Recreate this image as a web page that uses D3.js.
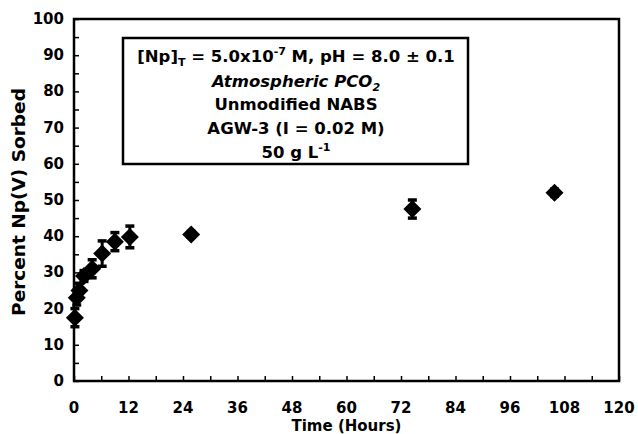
<!DOCTYPE html>
<html>
<head>
<meta charset="utf-8">
<script src="https://d3js.org/d3.v7.min.js"></script>
<style>
  body { margin: 0; background: white; }
  text { font-family: "DejaVu Sans", Verdana, sans-serif; font-weight: bold; }
</style>
</head>
<body>
<div id="chart"></div>
<script>
// data
var hours   = [0.2, 0.6, 1.2, 2.2, 4, 6.2, 9, 12.3, 25.8, 74.5, 105.8];
var percent = [17.5, 23, 25, 29, 31, 35.2, 38.5, 39.8, 40.5, 47.5, 52];
var errs    = [2.5, 2, 2, 1.5, 2.5, 3.5, 2.5, 3, 0.8, 2.5, 1];
var xTicks  = [0, 12, 24, 36, 48, 60, 72, 84, 96, 108, 120];
var yTicks  = [0, 10, 20, 30, 40, 50, 60, 70, 80, 90, 100];
var noteLines = ["Atmospheric PCO2", "Unmodified NABS", "AGW-3 (I = 0.02 M)", "50 g L-1"];

var width = 638, height = 434;
var margin = {left: 74, right: 19, top: 19, bottom: 53};

var svg = d3.select("#chart").append("svg")
  .attr("width", width).attr("height", height);

var x = d3.scaleLinear().domain([0, 120]).range([margin.left, width - margin.right]);
var y = d3.scaleLinear().domain([0, 100]).range([height - margin.bottom, margin.top]);

// inward minor ticks
svg.append("g")
  .attr("transform", "translate(0," + y(0) + ")")
  .call(d3.axisTop(x).tickValues(d3.range(0, 121, 6)).tickSize(5).tickFormat(""))
  .call(function(g){ g.select(".domain").remove(); })
  .selectAll("line").attr("stroke-width", 1.5);

svg.append("g")
  .attr("transform", "translate(" + x(0) + ",0)")
  .call(d3.axisRight(y).tickValues(d3.range(0, 101, 5)).tickSize(5).tickFormat(""))
  .call(function(g){ g.select(".domain").remove(); })
  .selectAll("line").attr("stroke-width", 1.5);

// frame
svg.append("rect")
  .attr("x", x(0)).attr("y", y(100))
  .attr("width", x(120) - x(0)).attr("height", y(0) - y(100))
  .attr("fill", "none").attr("stroke", "black").attr("stroke-width", 2.5);

// tick labels
svg.selectAll(".xl").data(xTicks).enter().append("text")
  .attr("x", function(d){ return x(d); }).attr("y", y(0) + 32)
  .attr("text-anchor", "middle").attr("font-size", 15).text(function(d){ return d; });

svg.selectAll(".yl").data(yTicks).enter().append("text")
  .attr("x", x(0) - 10).attr("y", function(d){ return y(d) + 5; })
  .attr("text-anchor", "end").attr("font-size", 15).text(function(d){ return d; });

// axis titles
svg.append("text")
  .attr("x", (x(0) + x(120)) / 2).attr("y", 431)
  .attr("text-anchor", "middle").attr("font-size", 15).text("Time (Hours)");

svg.append("text")
  .attr("transform", "translate(25," + ((y(0) + y(100)) / 2 + 2) + ") rotate(-90)")
  .attr("text-anchor", "middle").attr("font-size", 18.5).text("Percent Np(V) Sorbed");

// error bars
var g = svg.append("g");
hours.forEach(function(h, i) {
  var cx = x(h);
  g.append("line")
    .attr("x1", cx).attr("x2", cx)
    .attr("y1", y(percent[i] - errs[i])).attr("y2", y(percent[i] + errs[i]))
    .attr("stroke", "black").attr("stroke-width", 3);
  [percent[i] - errs[i], percent[i] + errs[i]].forEach(function(v) {
    g.append("line")
      .attr("x1", cx - 4.5).attr("x2", cx + 4.5)
      .attr("y1", y(v)).attr("y2", y(v))
      .attr("stroke", "black").attr("stroke-width", 3.5);
  });
});

// diamonds
g.selectAll("path.pt").data(hours).enter().append("path")
  .attr("d", function(d, i){
    var cx = x(d), cy = y(percent[i]), r = 9;
    return "M" + cx + "," + (cy - r) + "L" + (cx + r) + "," + cy + "L" + cx + "," + (cy + r) + "L" + (cx - r) + "," + cy + "Z";
  })
  .attr("fill", "black");

// annotation box
svg.append("rect")
  .attr("x", 123).attr("y", 38).attr("width", 345).attr("height", 126)
  .attr("fill", "white").attr("stroke", "black").attr("stroke-width", 2.5);

var cxBox = 296, fs = 16.5, fsSub = 11;
var t1 = svg.append("text").attr("x", cxBox).attr("y", 62)
  .attr("text-anchor", "middle").attr("font-size", fs);
t1.append("tspan").text("[Np]");
t1.append("tspan").attr("font-size", fsSub).attr("dy", 4).text("T");
t1.append("tspan").attr("dy", -4).text(" = 5.0x10");
t1.append("tspan").attr("font-size", fsSub).attr("dy", -7).text("-7");
t1.append("tspan").attr("dy", 7).text(" M, pH = 8.0 \u00b1 0.1");

var t2 = svg.append("text").attr("x", cxBox).attr("y", 87)
  .attr("text-anchor", "middle").attr("font-size", fs).attr("font-style", "italic");
t2.append("tspan").text("Atmospheric PCO");
t2.append("tspan").attr("font-size", fsSub).attr("dy", 4).text("2");

svg.append("text").attr("x", cxBox).attr("y", 110)
  .attr("text-anchor", "middle").attr("font-size", fs).text(noteLines[1]);
svg.append("text").attr("x", cxBox).attr("y", 134)
  .attr("text-anchor", "middle").attr("font-size", fs).text(noteLines[2]);

var t5 = svg.append("text").attr("x", cxBox).attr("y", 158)
  .attr("text-anchor", "middle").attr("font-size", fs);
t5.append("tspan").text("50 g L");
t5.append("tspan").attr("font-size", fsSub).attr("dy", -7).text("-1");
</script>
</body>
</html>
